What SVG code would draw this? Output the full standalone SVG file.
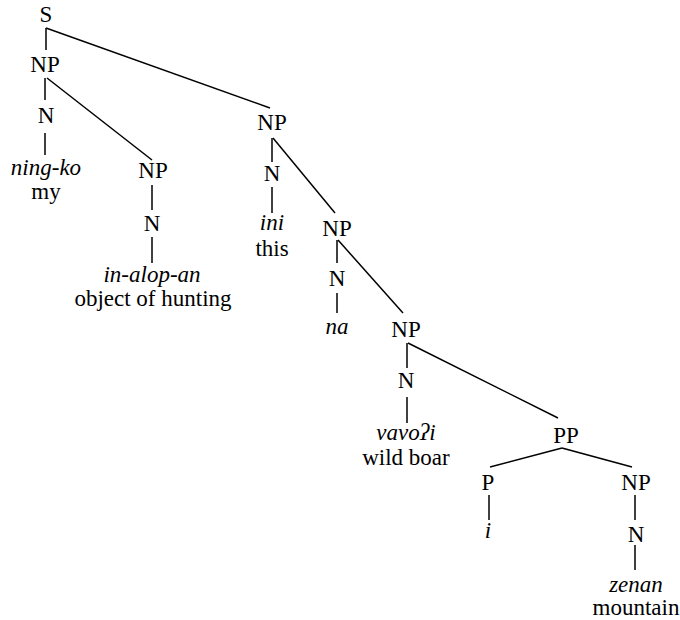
<svg xmlns="http://www.w3.org/2000/svg" width="680" height="620" viewBox="0 0 680 620">
<style>
.t text{font-size:23px;fill:#000;text-anchor:middle}
.it{font-style:italic}
#edges line{stroke:#000;stroke-width:1.5}
</style>
<rect width="680" height="620" fill="#fff"/>
<g id="edges">
<line x1="46" y1="28" x2="46" y2="50"/>
<line x1="46" y1="28" x2="270" y2="108"/>
<line x1="45" y1="78" x2="45" y2="100"/>
<line x1="47" y1="78" x2="152" y2="160"/>
<line x1="45" y1="133" x2="45" y2="155"/>
<line x1="152" y1="185" x2="152" y2="210"/>
<line x1="152" y1="237" x2="152" y2="263"/>
<line x1="272" y1="138" x2="272" y2="162"/>
<line x1="273" y1="138" x2="335" y2="213"/>
<line x1="272" y1="187" x2="272" y2="213"/>
<line x1="337" y1="240" x2="337" y2="263"/>
<line x1="338" y1="240" x2="403" y2="313"/>
<line x1="337" y1="293" x2="337" y2="313"/>
<line x1="407" y1="343" x2="407" y2="368"/>
<line x1="408" y1="343" x2="558" y2="418"/>
<line x1="407" y1="397" x2="407" y2="423"/>
<line x1="562" y1="448" x2="490" y2="467"/>
<line x1="562" y1="448" x2="632" y2="467"/>
<line x1="489" y1="495" x2="489" y2="520"/>
<line x1="635" y1="495" x2="635" y2="520"/>
<line x1="635" y1="545" x2="635" y2="570"/>
</g>
<g class="t" font-family="'Liberation Serif', 'Times New Roman', 'DejaVu Serif', serif">
<g id="S"><text x="46" y="22">S</text></g>
<g id="NP1"><text x="45" y="72">NP</text></g>
<g id="N1"><text x="46" y="123">N</text></g>
<g id="ningko"><text class="it" x="46" y="175">ning-ko</text><text x="46" y="199">my</text></g>
<g id="NP2"><text x="153" y="178">NP</text></g>
<g id="N2"><text x="152" y="231">N</text></g>
<g id="inalopan"><text class="it" x="152" y="282">in-alop-an</text><text x="153" y="306">object of hunting</text></g>
<g id="NP3"><text x="272" y="130">NP</text></g>
<g id="N3"><text x="272" y="181">N</text></g>
<g id="ini"><text class="it" x="272" y="230">ini</text><text x="272" y="256">this</text></g>
<g id="NP4"><text x="337" y="236">NP</text></g>
<g id="N4"><text x="337" y="286">N</text></g>
<g id="na"><text class="it" x="337" y="334">na</text></g>
<g id="NP5"><text x="406" y="337">NP</text></g>
<g id="N5"><text x="406" y="388">N</text></g>
<g id="vavoi"><text class="it" x="406" y="440">vavoʔi</text><text x="406" y="465">wild boar</text></g>
<g id="PP"><text x="566" y="443">PP</text></g>
<g id="P"><text x="488" y="490">P</text></g>
<g id="i"><text class="it" x="488" y="538">i</text></g>
<g id="NP6"><text x="636" y="490">NP</text></g>
<g id="N6"><text x="636" y="542">N</text></g>
<g id="zenan"><text class="it" x="636" y="592">zenan</text><text x="636" y="615">mountain</text></g>
</g>
</svg>
